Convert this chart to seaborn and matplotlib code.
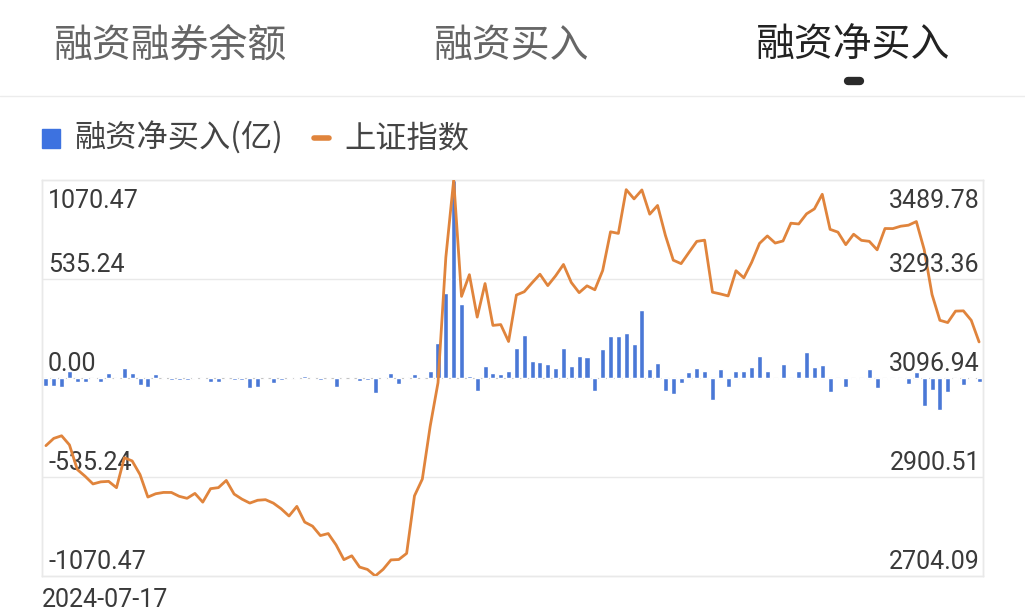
import matplotlib
matplotlib.use("Agg")
import matplotlib.pyplot as plt
import matplotlib.transforms as mtransforms
from matplotlib.lines import Line2D
from matplotlib.patches import Rectangle
import seaborn as sns
import pandas as pd

# ---------------- data ----------------
tabs = ["融资融券余额", "融资买入", "融资净买入"]
legend_labels = ["融资净买入(亿)", "上证指数"]
first_date = "2024-07-17"

dates = (["2024-07-%02d" % d for d in [17, 18, 19, 22, 23, 24, 25, 26, 29, 30, 31]]
         + ["2024-08-%02d" % d for d in [1, 2, 5, 6, 7, 8, 9, 12, 13, 14, 15, 16, 19, 20, 21, 22, 23, 26, 27, 28, 29, 30]]
         + ["2024-09-%02d" % d for d in [2, 3, 4, 5, 6, 9, 10, 11, 12, 13, 18, 19, 20, 23, 24, 25, 26, 27, 30]]
         + ["2024-10-%02d" % d for d in [8, 9, 10, 11, 14, 15, 16, 17, 18, 21, 22, 23, 24, 25, 28, 29, 30, 31]]
         + ["2024-11-%02d" % d for d in [1, 4, 5, 6, 7, 8, 11, 12, 13, 14, 15, 18, 19, 20, 21, 22, 25, 26, 27, 28, 29]]
         + ["2024-12-%02d" % d for d in [2, 3, 4, 5, 6, 9, 10, 11, 12, 13, 16, 17, 18, 19, 20, 23, 24, 25, 26, 27, 30, 31]]
         + ["2025-01-%02d" % d for d in [2, 3, 6, 7, 8, 9, 10]])

sh_close = [
    2962.72, 2977.13, 2982.31, 2964.22, 2915.37, 2901.95, 2886.74, 2890.90, 2891.85, 2879.30, 2938.75,
    2932.39, 2905.34, 2860.70, 2867.28, 2869.90, 2869.83, 2862.19, 2858.20, 2867.95, 2850.65, 2877.36,
    2879.43, 2893.67, 2866.66, 2856.58, 2848.77, 2854.37, 2855.52, 2848.73, 2837.43, 2823.11, 2842.21,
    2811.04, 2802.98, 2784.28, 2788.31, 2765.81, 2736.49, 2744.19, 2721.80, 2717.12, 2704.09, 2717.28,
    2736.02, 2736.81, 2748.92, 2863.13, 2896.31, 3000.95, 3087.53, 3336.50,
    3489.78, 3258.86, 3301.93, 3217.74, 3284.32, 3201.29, 3202.95, 3169.38, 3261.56, 3268.11, 3285.87,
    3302.80, 3280.26, 3299.70, 3322.20, 3286.41, 3266.24, 3279.82,
    3272.01, 3310.21, 3386.99, 3383.81, 3470.66, 3452.30, 3470.07, 3421.97, 3439.28, 3379.84, 3330.73,
    3323.85, 3346.01, 3367.99, 3370.40, 3267.19, 3263.76, 3259.76, 3309.78, 3295.70, 3326.46,
    3363.98, 3378.81, 3364.65, 3368.86, 3404.08, 3402.53, 3422.66, 3432.49, 3461.50, 3391.88, 3386.33,
    3361.49, 3382.21, 3370.03, 3368.07, 3351.26, 3393.53, 3393.35, 3398.08, 3400.14, 3407.33, 3351.76,
    3262.56, 3211.43, 3206.92, 3229.64, 3230.17, 3211.39, 3168.52,
]

net_buy = [
    -41, -41, -50, 40, -20, -20, -8, -23, 25, -3, 54, 27, -36, -47, 20, -2, -11, -11, -11, 7,
    -5, -20, -23, -2, -12, -12, -54, -50, -2, -28, -11, 5, 5, 10, -3, -11, -2, -47, 2, -1,
    -14, -11, -79, -7, 25, -32, -3, 20, 1, 40, 189, 460, 1070.47, 400, 10, -72, 67, 25, 22, 40,
    162, 232, 90, 88, 77, 54, 164, 63, 117, 112, -68, 159, 229, 229, 245, 182, 368, 47, 80, -68,
    -88, -27, 34, 54, 36, -117, 49, -47, 38, 40, 58, 117, 36, -3, 74, -8, 38, 142, 58, 70,
    -77, -3, -50, -3, -3, 49, -54, -3, -3, -3, -32, 34, -150, -65, -171, -74, -3, -36, -3, -22,
]

left_ticks = [1070.47, 535.24, 0.00, -535.24, -1070.47]
right_ticks = [3489.78, 3293.36, 3096.94, 2900.51, 2704.09]

# ---------------- style ----------------
W, H = 1025, 611
bar_color = "#4a78d6"
legend_blue = "#3d72e0"
line_color = "#e0843c"
grid_color = "#e9e9e9"
text_color = "#3a3a3a"

sns.set_theme(style="white")
plt.rcParams['font.family'] = ['Noto Sans CJK SC', 'DejaVu Sans']

fig = plt.figure(figsize=(W / 100, H / 100), dpi=100)
fig.patch.set_facecolor("white")

def fx(x):
    return x / W

def fy(y):
    return 1 - y / H

# plot area: x 42..983, y 180..576
ax = fig.add_axes([fx(42), fy(576), (983 - 42) / W, (576 - 180) / H])
n = len(net_buy)
df = pd.DataFrame({"date": dates, "idx": list(range(n)), "net": net_buy, "close": sh_close})

sns.barplot(data=df, x="idx", y="net", color=bar_color, saturation=1, width=0.64, ax=ax, zorder=2)
ax.set_ylim(-1070.47, 1070.47)

ax2 = ax.twinx()
sns.lineplot(data=df, x="idx", y="close", color=line_color, linewidth=2.0, ax=ax2, zorder=3)
ax2.set_ylim(2704.09, 3489.78)
ax.set_xlim(-0.5, n - 0.5)
ax2.set_xlim(-0.5, n - 0.5)

for a in (ax, ax2):
    a.set_xticks([])
    a.set_yticks([])
    a.set_xlabel("")
    a.set_ylabel("")
    for s in a.spines.values():
        s.set_color(grid_color)
        s.set_linewidth(1.0)

for v in (535.24, -535.24):
    ax.axhline(v, color=grid_color, lw=1.0, zorder=0)
ax.axhline(0, color="#c4c4c4", lw=0.8, ls=(0, (4, 3)), zorder=1)

# axis value labels
num_font = "Roboto"
base_l = mtransforms.blended_transform_factory(ax.transAxes, ax.transData)
base_r = mtransforms.blended_transform_factory(ax2.transAxes, ax2.transData)
for i, (lv, rv) in enumerate(zip(left_ticks, right_ticks)):
    dy = -28 if i == 0 else 7
    tl = mtransforms.offset_copy(base_l, fig=fig, x=0, y=dy, units="dots")
    tr = mtransforms.offset_copy(base_r, fig=fig, x=0, y=dy, units="dots")
    ax.text(0.0064, lv, f"{lv:.2f}", transform=tl, ha="left", va="baseline",
            fontsize=18, color=text_color, family=num_font, zorder=5)
    ax2.text(0.9968, rv, f"{rv:.2f}", transform=tr, ha="right", va="baseline",
             fontsize=18, color=text_color, family=num_font, zorder=5)

fig.text(fx(42), fy(607), first_date, ha="left", va="baseline",
         fontsize=18, color=text_color, family=num_font)

# tabs
fig.text(fx(54), fy(46), tabs[0], ha="left", va="center", fontsize=28, color="#666666")
fig.text(fx(434), fy(46), tabs[1], ha="left", va="center", fontsize=28, color="#666666")
fig.text(fx(756), fy(46), tabs[2], ha="left", va="center", fontsize=28, color="#222222")
fig.add_artist(Line2D([fx(848), fx(860)], [fy(81), fy(81)], color="#2a2a2a", lw=6,
                      solid_capstyle="round", transform=fig.transFigure))
fig.add_artist(Line2D([0, 1], [fy(96), fy(96)], color="#ececec", lw=1.0, transform=fig.transFigure))

# legend
fig.add_artist(Rectangle((fx(42), fy(148)), 18 / W, 19 / H, color=legend_blue, transform=fig.transFigure))
fig.text(fx(74), fy(138), legend_labels[0], ha="left", va="center", fontsize=22.5, color="#444444")
fig.add_artist(Line2D([fx(314), fx(329)], [fy(138), fy(138)], color=line_color, lw=4,
                      transform=fig.transFigure))
fig.text(fx(344), fy(138), legend_labels[1], ha="left", va="center", fontsize=22.5, color="#444444")

fig.savefig("out.png", dpi=100, facecolor="white")
